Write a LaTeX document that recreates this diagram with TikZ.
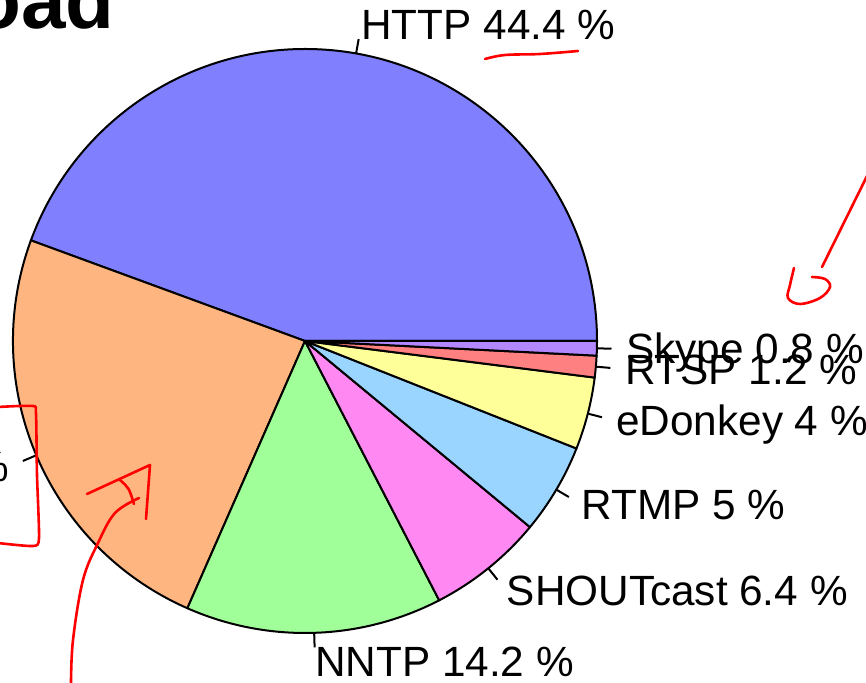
\documentclass[tikz,border=0pt]{standalone}
\usepackage{fontspec}
\setmainfont{Liberation Sans}
\usetikzlibrary{calc}
\definecolor{cHTTP}{RGB}{128,128,255}
\definecolor{cOther}{RGB}{255,181,128}
\definecolor{cNNTP}{RGB}{160,255,152}
\definecolor{cSHOUT}{RGB}{255,136,242}
\definecolor{cRTMP}{RGB}{153,213,255}
\definecolor{cEDON}{RGB}{255,255,153}
\definecolor{cRTSP}{RGB}{255,128,128}
\definecolor{cSKYPE}{RGB}{179,136,255}
\tikzset{
  slice/.style={draw=black, line width=2pt, line join=round},
  lbl/.style={anchor=base west, inner sep=0pt, font=\fontsize{42.3}{48}\selectfont, yshift=-14.8pt},
  lblL/.style={lbl, anchor=base east},
  ticklink/.style={draw=black, line width=2pt},
  redmark/.style={draw=red, line width=2.6pt, line cap=round, line join=round},
  titletext/.style={anchor=base west, inner sep=0pt, font=\fontsize{80}{90}\selectfont\bfseries}
}
\newcommand\pieslice[3]{%
  \filldraw[slice, fill=#3] (C) -- ++(#1:292pt) arc[start angle=#1, end angle=#2, radius=292pt] -- cycle;}
\newcommand\pielabel[5]{% angle, name, text, style
  \coordinate (#2a) at ($(C)+(#1:292pt)$);
  \coordinate (#2b) at ($(C)+(#1:306.6pt)$);
  \draw[ticklink] (#2a) -- (#2b);
  \node[#4] (#2) at ($(C)+(#1:321.2pt)$) {#3};}
\begin{document}
\begin{tikzpicture}[x=1pt,y=1pt]
\useasboundingbox (0,0) rectangle (866,682);
\clip (0,0) rectangle (866,682);
\fill[white] (0,0) rectangle (866,682);
\coordinate (C) at (305,341);
% title (cut off)
\node[titletext] (title) at (-28,653) {oad};
% slices
\pieslice{0}{159.84}{cHTTP}
\pieslice{159.84}{246.24}{cOther}
\pieslice{246.24}{297.36}{cNNTP}
\pieslice{297.36}{320.4}{cSHOUT}
\pieslice{320.4}{338.4}{cRTMP}
\pieslice{338.4}{352.8}{cEDON}
\pieslice{352.8}{357.12}{cRTSP}
\pieslice{357.12}{360}{cSKYPE}
% labels
\pielabel{79.92}{http}{HTTP 44.4 \%}{lbl}{}
\pielabel{203.04}{other}{\%}{lblL}{}
\pielabel{271.8}{nntp}{NNTP 14.2 \%}{lbl}{}
\pielabel{308.88}{shout}{SHOUTcast 6.4 \%}{lbl}{}
\pielabel{329.4}{rtmp}{RTMP 5 \%}{lbl}{}
\pielabel{345.6}{edonkey}{eDonkey 4 \%}{lbl}{}
\pielabel{354.96}{rtsp}{RTSP 1.2 \%}{lbl}{}
\pielabel{358.56}{skype}{Skype 0.8 \%}{lbl}{}
% red hand annotations
\draw[redmark] plot[smooth, tension=0.6] coordinates {(485,623) (505,627) (540,628) (578,631)};
\draw[redmark] (868,508) -- (822,415);
\draw[redmark] plot[smooth, tension=0.6] coordinates {(794,414) (790,397) (788,384) (800,378) (820,384) (830,395) (825,403) (812,405)};
\draw[redmark] plot[smooth, tension=0.4] coordinates {(-2,275) (33,276) (36,268) (37,207) (39,144) (33,136) (-2,139)};
\draw[redmark] (87,188) -- (150,217) -- (146,163);
\draw[redmark] (120,202) .. controls (129,194) .. (134,178);
\draw[redmark] plot[smooth, tension=0.6] coordinates {(71,-2) (73,42) (83,102) (98,139) (115,169) (139,184)};
\end{tikzpicture}
\end{document}
